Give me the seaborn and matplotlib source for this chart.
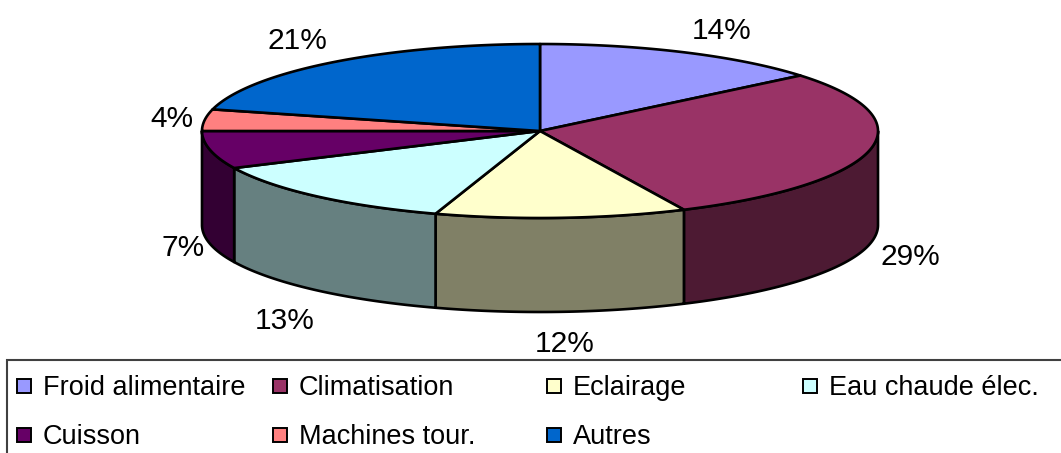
import numpy as np
import matplotlib
matplotlib.use("Agg")
import matplotlib.pyplot as plt
from matplotlib.patches import Polygon, Rectangle
import seaborn as sns

# Electricity end-use breakdown (%)
categories = ["Froid alimentaire", "Climatisation", "Eclairage", "Eau chaude élec.",
              "Cuisson", "Machines tour.", "Autres"]
values = [14, 29, 12, 13, 7, 4, 21]
colors = ["#9999FF", "#993366", "#FFFFCC", "#CCFFFF", "#660066", "#FF8080", "#0066CC"]

sns.set_style("white")
plt.rcParams["font.family"] = ["Liberation Sans", "DejaVu Sans"]
palette = sns.color_palette(colors)

W, H = 1061, 453
fig = plt.figure(figsize=(W / 100, H / 100), dpi=100)
ax = fig.add_axes([0, 0, 1, 1])
ax.set_xlim(0, W)
ax.set_ylim(H, 0)
ax.axis("off")

# projected 3-D pie geometry (pixel units)
cx, cy, rx, ry, depth = 540, 131, 338, 87, 94
lw = 1.9


def pt(theta, dz=0.0):
    return cx + rx * np.sin(theta), cy - ry * np.cos(theta) + dz


fr = np.array(values, dtype=float) / sum(values)
bounds = np.concatenate([[0], np.cumsum(fr)]) * 2 * np.pi

# outer walls (front half only), drawn first
for i, col in enumerate(palette):
    a, b = max(bounds[i], np.pi / 2), min(bounds[i + 1], 3 * np.pi / 2)
    if b <= a:
        continue
    t = np.linspace(a, b, 200)
    top = np.column_stack(pt(t))
    bot = np.column_stack(pt(t[::-1], depth))
    side = tuple(np.array(col) * 0.5)
    ax.add_patch(Polygon(np.vstack([top, bot]), closed=True, facecolor=side,
                         edgecolor="black", lw=lw, joinstyle="round"))

# top faces
for i, col in enumerate(palette):
    t = np.linspace(bounds[i], bounds[i + 1], 300)
    arc = np.column_stack(pt(t))
    poly = np.vstack([[cx, cy], arc])
    ax.add_patch(Polygon(poly, closed=True, facecolor=col, edgecolor="black",
                         lw=lw, joinstyle="round"))

# percentage labels around the pie
lab_rx, lab_ry = 380, 116
nudge = [(20, 2), (0, 4), (1, 0), (-4, 6), (14, -5), (9, 0), (-10, -1)]
for i, v in enumerate(values):
    m = 0.5 * (bounds[i] + bounds[i + 1])
    x = cx + lab_rx * np.sin(m)
    y = cy - lab_ry * np.cos(m) + (depth if np.cos(m) < 0 else 0)
    x += nudge[i][0]
    y += nudge[i][1]
    ax.text(x, y + 11, f"{v}%", fontsize=21.5, ha="center", va="baseline",
            color="black")

# legend box
ax.add_patch(Rectangle((7, 360), 1060, 120, facecolor="white",
                       edgecolor="#404040", lw=1.5, clip_on=True))
col_x = [17, 273, 547, 803]
row_y = [385.5, 434.5]
for i, (name, col) in enumerate(zip(categories, palette)):
    r, c = divmod(i, 4)
    x0, yc = col_x[c], row_y[r]
    ax.add_patch(Rectangle((x0, yc - 7), 14, 14, facecolor=col,
                           edgecolor="black", lw=1.4))
    ax.text(x0 + 26, yc + 9.7, name, fontsize=19.5, ha="left", va="baseline",
            color="black")

fig.savefig("out.png", dpi=100)
